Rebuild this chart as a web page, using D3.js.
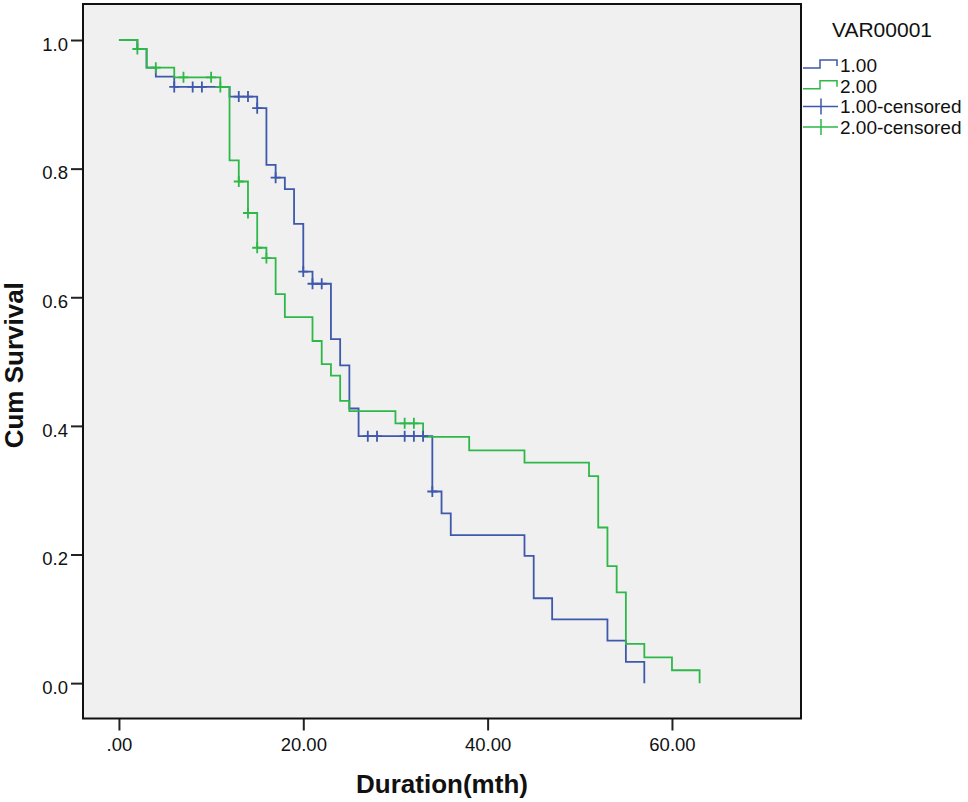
<!DOCTYPE html>
<html>
<head>
<meta charset="utf-8">
<script src="https://cdn.jsdelivr.net/npm/d3@7"></script>
<style>
  body { margin: 0; background: #fff; }
  text { font-family: Arial, "Liberation Sans", sans-serif; fill: #111; }
</style>
</head>
<body>
<svg id="chart"></svg>
<script>
// Kaplan-Meier steps (time in months, cum survival)
const blueTimes = [0, 2, 3, 4, 6, 12, 15, 16, 17, 18, 19, 20, 21, 23, 24, 25, 26, 34, 35, 36, 44, 45, 47, 53, 55, 57];
const blueSurv = [1.0, 0.986, 0.957, 0.943, 0.927, 0.912, 0.894, 0.806, 0.786, 0.768, 0.714, 0.640, 0.621, 0.535, 0.494, 0.427, 0.384, 0.298, 0.264, 0.230, 0.198, 0.132, 0.099, 0.066, 0.033, 0.0];
const blueCensored = [6, 8, 9, 13, 14, 15, 17, 20, 21, 22, 27, 28, 31, 32, 33, 34];

const greenTimes = [0, 2, 3, 6, 11, 12, 13, 14, 15, 16, 17, 18, 21, 22, 23, 24, 25, 30, 33, 38, 44, 51, 52, 53, 54, 55, 57, 60, 63];
const greenSurv = [1.0, 0.986, 0.957, 0.942, 0.927, 0.813, 0.780, 0.731, 0.677, 0.661, 0.605, 0.569, 0.532, 0.496, 0.478, 0.439, 0.423, 0.404, 0.383, 0.362, 0.343, 0.322, 0.242, 0.182, 0.141, 0.061, 0.040, 0.020, 0.0];
const greenCensored = [2, 4, 7, 10, 11, 13, 14, 15, 16, 31, 32];

const xTicks = [0, 20, 40, 60];
const yTicks = [0, 0.2, 0.4, 0.6, 0.8, 1.0];
const legendLabels = ["1.00", "2.00", "1.00-censored", "2.00-censored"];
const legendTitle = "VAR00001";

const width = 968, height = 802;
const blue = "#3E58AC", green = "#2EB848";

const svg = d3.select("#chart").attr("width", width).attr("height", height);

// plot box and scales
const plot = { left: 83, right: 801, top: 4, bottom: 718.5 };
const x = d3.scaleLinear().domain([-3.9, 74]).range([plot.left, plot.right]);
const y = d3.scaleLinear().domain([-0.055, 1.056]).range([plot.bottom, plot.top]);

svg.append("rect")
  .attr("x", plot.left).attr("y", plot.top)
  .attr("width", plot.right - plot.left).attr("height", plot.bottom - plot.top)
  .attr("fill", "#f0f0f0");

// axes
const xAxis = svg.append("g")
  .attr("transform", `translate(0,${plot.bottom})`)
  .call(d3.axisBottom(x).tickValues(xTicks).tickSize(12).tickPadding(7)
    .tickFormat(d => d === 0 ? ".00" : d.toFixed(2)));
xAxis.select(".domain").remove();
xAxis.selectAll("line").attr("stroke", "#222").attr("stroke-width", 2);
xAxis.selectAll("text").attr("font-size", 18.5).attr("fill", "#111");

const yAxis = svg.append("g")
  .attr("transform", `translate(${plot.left},0)`)
  .call(d3.axisLeft(y).tickValues(yTicks).tickSize(12).tickPadding(3)
    .tickFormat(d3.format(".1f")));
yAxis.select(".domain").remove();
yAxis.selectAll("line").attr("stroke", "#222").attr("stroke-width", 2);
yAxis.selectAll("text").attr("font-size", 18.5).attr("dy", "0.55em").attr("fill", "#111");

// survival curves
const step = d3.line().x(d => x(d[0])).y(d => y(d[1])).curve(d3.curveStepAfter);

function survAt(times, surv, t) {
  let s = surv[0];
  times.forEach((tt, i) => { if (tt <= t) s = surv[i]; });
  return s;
}

const groups = [
  { times: blueTimes, surv: blueSurv, cens: blueCensored, color: blue },
  { times: greenTimes, surv: greenSurv, cens: greenCensored, color: green }
];

groups.forEach(g => {
  svg.append("path")
    .datum(g.times.map((t, i) => [t, g.surv[i]]))
    .attr("d", step)
    .attr("fill", "none")
    .attr("stroke", g.color)
    .attr("stroke-width", 1.8);
});

groups.forEach(g => {
  g.cens.forEach(t => {
    const cx = x(t), cy = y(survAt(g.times, g.surv, t));
    svg.append("path")
      .attr("d", `M${cx - 5},${cy}H${cx + 5}M${cx},${cy - 5.5}V${cy + 5.5}`)
      .attr("stroke", g.color)
      .attr("stroke-width", 1.8)
      .attr("fill", "none");
  });
});

// plot border
svg.append("rect")
  .attr("x", plot.left).attr("y", plot.top)
  .attr("width", plot.right - plot.left).attr("height", plot.bottom - plot.top)
  .attr("fill", "none").attr("stroke", "#111").attr("stroke-width", 2);

// axis titles
svg.append("text")
  .attr("x", (plot.left + plot.right) / 2).attr("y", 793)
  .attr("text-anchor", "middle")
  .attr("font-size", 26).attr("font-weight", "bold")
  .text("Duration(mth)");

svg.append("text")
  .attr("transform", `translate(23,${(plot.top + plot.bottom) / 2 + 4}) rotate(-90)`)
  .attr("text-anchor", "middle")
  .attr("font-size", 26).attr("font-weight", "bold")
  .text("Cum Survival");

// legend
svg.append("text")
  .attr("x", 882).attr("y", 37)
  .attr("text-anchor", "middle")
  .attr("font-size", 21)
  .text(legendTitle);

const legendColors = [blue, green, blue, green];
legendLabels.forEach((lab, i) => {
  const cy = 65 + i * 20.7;
  if (i < 2) {
    svg.append("path")
      .attr("d", `M803,${cy + 3}H820V${cy - 5}H837V${cy + 1}`)
      .attr("fill", "none").attr("stroke", legendColors[i]).attr("stroke-width", 1.5);
  } else {
    svg.append("path")
      .attr("d", `M803,${cy}H838M821,${cy - 8}V${cy + 8}`)
      .attr("fill", "none").attr("stroke", legendColors[i]).attr("stroke-width", 1.5);
  }
  svg.append("text")
    .attr("x", 840).attr("y", cy + 7)
    .attr("font-size", 19)
    .text(lab);
});
</script>
</body>
</html>
